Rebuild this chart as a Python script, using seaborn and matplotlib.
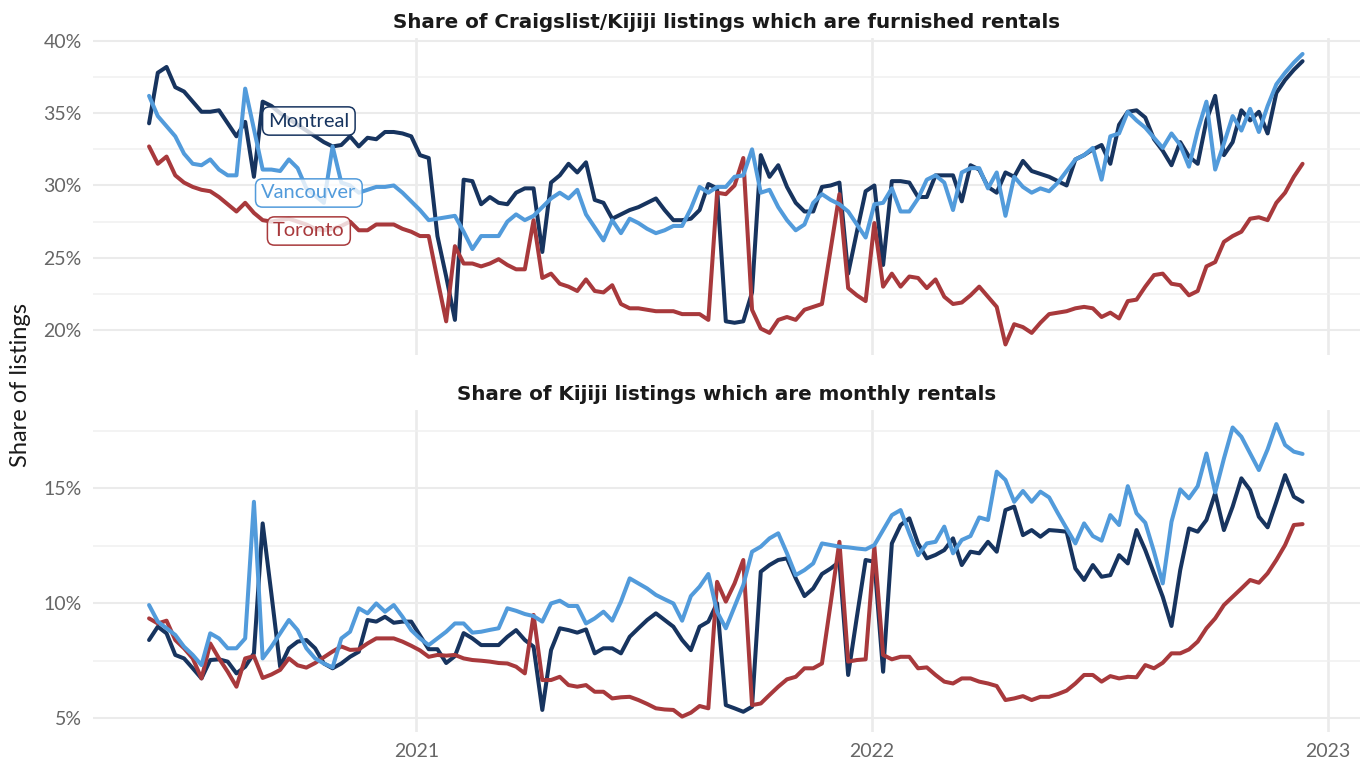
import matplotlib.pyplot as plt
import matplotlib.dates as mdates
import matplotlib.ticker as mticker
import pandas as pd
import seaborn as sns

# weekly observations, first week starting 2020-06-01
start = "2020-06-01"

# Share of Craigslist/Kijiji listings which are furnished rentals (%)
furn_montreal = [
    34.3, 37.8, 38.2, 36.8, 36.5, 35.8, 35.1, 35.1, 35.2, 34.3,
    33.4, 34.4, 30.6, 35.8, 35.5, 35.0, 34.6, 34.2, 33.8, 33.4,
    33.0, 32.7, 32.8, 33.4, 32.7, 33.3, 33.2, 33.7, 33.7, 33.6,
    33.4, 32.1, 31.9, 26.5, 23.7, 20.7, 30.4, 30.3, 28.7, 29.2,
    28.8, 28.7, 29.5, 29.8, 29.8, 25.4, 30.2, 30.7, 31.5, 30.9,
    31.6, 29.0, 28.8, 27.7, 28.0, 28.3, 28.5, 28.8, 29.1, 28.3,
    27.6, 27.6, 27.7, 28.3, 30.1, 29.8, 20.6, 20.5, 20.6, 22.6,
    32.1, 30.6, 31.4, 29.9, 28.8, 28.2, 28.2, 29.9, 30.0, 30.2,
    23.9, 26.8, 29.6, 30.0, 24.5, 30.3, 30.3, 30.2, 29.2, 29.2,
    30.7, 30.7, 30.7, 28.9, 31.4, 31.1, 29.9, 29.5, 30.9, 30.6,
    31.7, 31.0, 30.8, 30.6, 30.3, 30.0, 31.8, 32.1, 32.5, 32.8,
    31.5, 34.2, 35.1, 35.2, 34.7, 33.2, 32.4, 31.4, 33.0, 32.0,
    31.5, 34.5, 36.2, 32.1, 33.0, 35.2, 34.5, 35.1, 33.6, 36.4,
    37.3, 38.0, 38.6,
]
furn_vancouver = [
    36.2, 34.8, 34.1, 33.4, 32.2, 31.5, 31.4, 31.8, 31.1, 30.7,
    30.7, 36.7, 33.9, 31.1, 31.1, 31.0, 31.8, 31.2, 29.8, 29.3,
    28.8, 32.7, 30.2, 30.0, 29.5, 29.7, 29.9, 29.9, 30.0, 29.5,
    28.9, 28.3, 27.6, 27.7, 27.8, 27.9, 26.8, 25.6, 26.5, 26.5,
    26.5, 27.5, 28.0, 27.6, 27.9, 28.5, 29.1, 29.5, 29.1, 29.7,
    28.0, 27.1, 26.2, 27.6, 26.7, 27.7, 27.4, 27.0, 26.7, 26.9,
    27.2, 27.2, 28.4, 29.9, 29.5, 29.9, 29.9, 30.6, 30.7, 32.5,
    29.5, 29.7, 28.5, 27.6, 26.9, 27.3, 28.8, 29.4, 29.0, 28.7,
    28.2, 27.3, 26.4, 28.7, 28.8, 29.8, 28.2, 28.2, 29.1, 30.4,
    30.7, 30.2, 28.3, 30.9, 31.2, 31.2, 29.8, 30.9, 27.9, 30.6,
    29.9, 29.5, 29.8, 29.6, 30.2, 31.0, 31.8, 32.1, 32.6, 30.4,
    33.4, 33.6, 35.1, 34.5, 34.0, 33.3, 32.6, 33.6, 32.8, 31.3,
    33.8, 35.8, 31.1, 32.9, 34.8, 33.8, 35.3, 33.7, 35.5, 37.0,
    37.8, 38.5, 39.1,
]
furn_toronto = [
    32.7, 31.5, 32.0, 30.7, 30.2, 29.9, 29.7, 29.6, 29.2, 28.7,
    28.2, 28.8, 28.1, 27.6, 27.5, 27.6, 27.7, 27.5, 27.3, 27.0,
    26.9, 27.0, 27.2, 27.5, 26.9, 26.9, 27.3, 27.3, 27.3, 27.0,
    26.8, 26.5, 26.5, 23.5, 20.6, 25.8, 24.6, 24.6, 24.4, 24.6,
    24.9, 24.5, 24.2, 24.2, 27.6, 23.6, 23.9, 23.2, 23.0, 22.7,
    23.5, 22.7, 22.6, 23.1, 21.8, 21.5, 21.5, 21.4, 21.3, 21.3,
    21.3, 21.1, 21.1, 21.1, 20.7, 29.5, 29.4, 30.0, 31.9, 21.4,
    20.1, 19.8, 20.7, 20.9, 20.7, 21.4, 21.6, 21.8, 25.6, 29.4,
    22.9, 22.4, 22.0, 27.4, 23.0, 23.9, 23.0, 23.7, 23.6, 22.9,
    23.5, 22.3, 21.8, 21.9, 22.4, 23.0, 22.3, 21.6, 19.0, 20.4,
    20.2, 19.8, 20.5, 21.1, 21.2, 21.3, 21.5, 21.6, 21.5, 20.9,
    21.2, 20.8, 22.0, 22.1, 23.0, 23.8, 23.9, 23.2, 23.1, 22.4,
    22.7, 24.4, 24.7, 26.1, 26.5, 26.8, 27.7, 27.8, 27.6, 28.8,
    29.5, 30.6, 31.5,
]

# Share of Kijiji listings which are monthly rentals (%)
monthly_montreal = [
    8.40, 8.98, 8.69, 7.75, 7.60, 7.17, 6.73, 7.53, 7.56, 7.46,
    6.95, 7.24, 7.82, 13.47, 10.4, 7.24, 8.04, 8.33, 8.40, 8.04,
    7.38, 7.17, 7.38, 7.67, 7.89, 9.27, 9.20, 9.41, 9.15, 9.20,
    9.20, 8.6, 8.0, 8.0, 7.4, 7.7, 8.7, 8.47, 8.18, 8.18,
    8.18, 8.54, 8.83, 8.40, 8.11, 5.36, 7.96, 8.91, 8.83, 8.72,
    8.86, 7.82, 8.04, 8.04, 7.82, 8.54, 8.91, 9.27, 9.56, 9.27,
    8.98, 8.40, 7.96, 8.98, 9.20, 10.0, 5.57, 5.43, 5.28, 5.50,
    11.37, 11.66, 11.88, 11.95, 11.08, 10.31, 10.64, 11.27, 11.51, 11.80,
    6.88, 9.41, 11.88, 11.80, 7.02, 12.60, 13.40, 13.69, 12.60, 11.95,
    12.1, 12.31, 12.82, 11.66, 12.24, 12.17, 12.67, 12.24, 14.05, 14.20,
    12.96, 13.18, 12.89, 13.18, 13.15, 13.11, 11.51, 11.01, 11.66, 11.15,
    11.22, 12.09, 11.73, 13.18, 12.31, 11.30, 10.28, 9.01, 11.44, 13.25,
    13.11, 13.62, 14.78, 13.18, 14.20, 15.43, 14.92, 13.76, 13.30, 14.41,
    15.57, 14.63, 14.41,
]
monthly_vancouver = [
    9.92, 9.20, 8.91, 8.62, 8.11, 7.75, 7.31, 8.69, 8.47, 8.04,
    8.04, 8.47, 14.41, 7.60, 8.11, 8.69, 9.27, 8.83, 8.04, 7.60,
    7.38, 7.21, 8.47, 8.76, 9.78, 9.56, 9.99, 9.63, 9.92, 9.41,
    8.83, 8.47, 8.18, 8.47, 8.76, 9.12, 9.12, 8.72, 8.76, 8.84,
    8.91, 9.78, 9.67, 9.53, 9.44, 9.20, 9.99, 10.11, 9.88, 9.88,
    9.12, 9.34, 9.63, 9.24, 10.07, 11.08, 10.86, 10.64, 10.36, 10.17,
    9.99, 9.24, 10.31, 10.72, 11.27, 9.63, 8.91, 9.85, 10.79, 12.24,
    12.46, 12.82, 13.04, 12.17, 11.22, 11.44, 11.73, 12.60, 12.53, 12.46,
    12.43, 12.38, 12.34, 12.53, 13.18, 13.83, 14.05, 13.04, 12.09, 12.60,
    12.67, 13.33, 12.17, 12.75, 12.92, 13.73, 13.62, 15.72, 15.36, 14.41,
    14.88, 14.41, 14.85, 14.60, 13.91, 13.25, 12.60, 13.47, 12.92, 12.72,
    13.83, 13.40, 15.09, 13.91, 13.50, 12.24, 10.86, 13.54, 14.95, 14.56,
    15.09, 16.51, 14.82, 16.29, 17.64, 17.24, 16.51, 15.79, 16.69, 17.79,
    16.88, 16.59, 16.49,
]
monthly_toronto = [
    9.34, 9.12, 9.24, 8.40, 8.04, 7.60, 6.73, 8.25, 7.60, 7.02,
    6.37, 7.6, 7.7, 6.75, 6.9, 7.1, 7.6, 7.3, 7.2, 7.4,
    7.65, 7.9, 8.12, 7.97, 7.99, 8.25, 8.47, 8.47, 8.47, 8.33,
    8.15, 7.95, 7.67, 7.75, 7.72, 7.75, 7.6, 7.53, 7.5, 7.46,
    7.4, 7.38, 7.24, 6.95, 9.49, 6.66, 6.66, 6.80, 6.44, 6.37,
    6.44, 6.15, 6.15, 5.86, 5.91, 5.93, 5.79, 5.62, 5.43, 5.38,
    5.36, 5.07, 5.24, 5.53, 5.43, 10.93, 10.07, 10.86, 11.88, 5.57,
    5.64, 6.01, 6.37, 6.69, 6.80, 7.17, 7.17, 7.38, 10.0, 12.67,
    7.46, 7.53, 7.56, 12.46, 7.75, 7.56, 7.67, 7.67, 7.17, 7.21,
    6.88, 6.59, 6.51, 6.73, 6.73, 6.59, 6.51, 6.40, 5.79, 5.86,
    5.96, 5.79, 5.93, 5.93, 6.05, 6.20, 6.51, 6.88, 6.88, 6.59,
    6.83, 6.73, 6.80, 6.78, 7.31, 7.17, 7.41, 7.82, 7.82, 7.99,
    8.33, 8.91, 9.34, 9.92, 10.28, 10.64, 11.01, 10.89, 11.30, 11.88,
    12.53, 13.40, 13.44,
]

cities = ["Montreal", "Toronto", "Vancouver"]
colors = {"Montreal": "#17345f", "Toronto": "#a8393c", "Vancouver": "#529bdb"}


def to_frame(series):
    parts = []
    for city, vals in zip(cities, series):
        dates = pd.date_range(start, periods=len(vals), freq="7D")
        parts.append(pd.DataFrame({"date": dates, "share": vals, "city": city}))
    return pd.concat(parts, ignore_index=True)


df_furn = to_frame([furn_montreal, furn_toronto, furn_vancouver])
df_month = to_frame([monthly_montreal, monthly_toronto, monthly_vancouver])

sns.set_theme(style="white")
plt.rcParams['font.family'] = ['Lato', 'DejaVu Sans']

fig = plt.figure(figsize=(13.66, 7.61), dpi=100)
ax1 = fig.add_axes([0.068, 0.5335, 0.9276, 0.4165])
ax2 = fig.add_axes([0.068, 0.0381, 0.9276, 0.4231])

panels = [
    (ax1, df_furn, "Share of Craigslist/Kijiji listings which are furnished rentals", (18.27, 40.2), 5),
    (ax2, df_month, "Share of Kijiji listings which are monthly rentals", (4.4, 18.4), 5),
]

for ax, d, title, ylim, step in panels:
    sns.lineplot(data=d, x="date", y="share", hue="city", hue_order=cities,
                 palette=colors, linewidth=2.9, legend=False, ax=ax)
    ax.set_xlim(pd.Timestamp("2020-04-17"), pd.Timestamp("2023-01-27"))
    ax.set_ylim(*ylim)
    ax.yaxis.set_major_locator(mticker.MultipleLocator(step))
    ax.yaxis.set_minor_locator(mticker.MultipleLocator(step / 2))
    ax.yaxis.set_major_formatter(mticker.FuncFormatter(lambda v, p: f"{v:.0f}%"))
    ax.xaxis.set_major_locator(mdates.YearLocator())
    ax.xaxis.set_major_formatter(mdates.DateFormatter("%Y"))
    ax.yaxis.grid(True, which="major", color="#ebebeb", linewidth=1.5)
    ax.yaxis.grid(True, which="minor", color="#f0f0f0", linewidth=1.1)
    ax.xaxis.grid(True, which="major", color="#ebebeb", linewidth=1.9)
    ax.set_axisbelow(True)
    for s in ax.spines.values():
        s.set_visible(False)
    ax.tick_params(axis="both", which="both", length=0, labelsize=14,
                   labelcolor="#666666", pad=8)
    ax.set_xlabel("")
    ax.set_ylabel("")
    ax.set_title(title, fontsize=14.3, fontweight="bold", color="#1a1a1a", pad=7,
                 family=["DejaVu Sans"])

ax1.tick_params(labelbottom=False)

fig.text(0.015, 0.494, "Share of listings", rotation=90, va="center", ha="center",
         fontsize=17, color="#1a1a1a")

# direct labels in the top panel
label_x = mdates.date2num(pd.Timestamp("2020-10-07"))
for city, y in [("Montreal", 34.46), ("Vancouver", 29.48), ("Toronto", 26.85)]:
    ax1.text(label_x, y, city, ha="center", va="center", fontsize=14.5,
             color=colors[city], zorder=5,
             bbox=dict(boxstyle="round,pad=0.28,rounding_size=0.35",
                       fc=(1, 1, 1, 0.8), ec=colors[city], lw=1.1))

fig.savefig("out.png", dpi=100)
